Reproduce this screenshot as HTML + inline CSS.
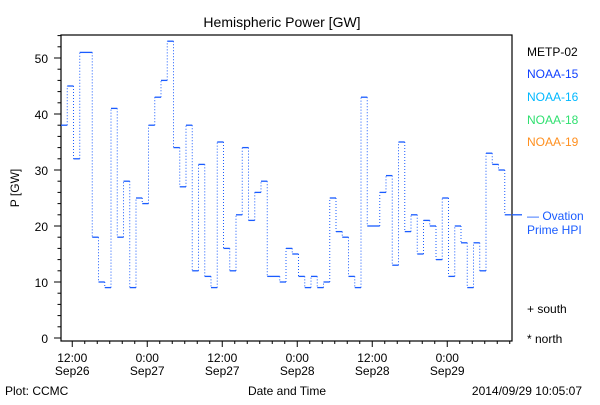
<!DOCTYPE html>
<html><head><meta charset="utf-8"><style>
body{margin:0;background:#fff}
svg text{font-family:"Liberation Sans",sans-serif;font-size:12px}
</style></head><body>
<svg width="600" height="400" viewBox="0 0 600 400" xmlns="http://www.w3.org/2000/svg">
<rect width="600" height="400" fill="#fff"/>
<text x="282" y="27" text-anchor="middle" font-size="14" style="font-size:14px">Hemispheric Power [GW]</text>
<text transform="translate(19,188) rotate(-90)" text-anchor="middle">P [GW]</text>
<rect x="61" y="35" width="451" height="306" fill="none" stroke="#000" stroke-width="1.2"/>
<g id="yaxis"></g><g id="xaxis"></g><g id="series"></g>
<text x="5" y="395">Plot: CCMC</text>
<text x="287" y="395" text-anchor="middle">Date and Time</text>
<text x="582" y="395" text-anchor="end">2014/09/29 10:05:07</text>
<text x="527" y="56" fill="#000">METP-02</text>
<text x="527" y="78" fill="#1040ff">NOAA-15</text>
<text x="527" y="101" fill="#00b8ff">NOAA-16</text>
<text x="527" y="124" fill="#30e070">NOAA-18</text>
<text x="527" y="146" fill="#ff9020">NOAA-19</text>
<text x="527" y="220" fill="#1a5cff">— Ovation</text>
<text x="527" y="234" fill="#1a5cff">Prime HPI</text>
<text x="527" y="313">+ south</text>
<text x="527" y="343">* north</text>
</svg>
<script>
const yTicks=[0,10,20,30,40,50];
const xTickLabels=[["12:00","Sep26"],["0:00","Sep27"],["12:00","Sep27"],["0:00","Sep28"],["12:00","Sep28"],["0:00","Sep29"]];
const xTickHours=[12,24,36,48,60,72];
const startHour=10.2;
const power=[38,45,32,51,51,18,10,9,41,18,28,9,25,24,38,43,46,53,34,27,38,12,31,11,9,35,16,12,22,34,21,26,28,11,11,10,
16,15,11,9,11,9,10,25,19,18,11,9,43,20,20,26,29,13,35,19,22,15,21,20,14,25,11,20,17,9,17,12,33,31,30,22];
const ovation=[22];
const NS="http://www.w3.org/2000/svg";
const X0=61,PXH=6.25,Y0=338,PXV=5.6;
function xs(h){return X0+(h-startHour)*PXH;}
function ys(v){return Y0-v*PXV;}
function mk(tag,attrs,parent){const e=document.createElementNS(NS,tag);for(const k in attrs)e.setAttribute(k,attrs[k]);parent.appendChild(e);return e;}
const ya=document.getElementById('yaxis'),xa=document.getElementById('xaxis'),sg=document.getElementById('series');
for(let v=0;v<=54;v+=2){const major=v%10===0;const t=mk('line',{x1:61,x2:major?54:57.5,y1:ys(v),y2:ys(v),stroke:'#000'},ya);

}
yTicks.forEach(v=>{const t=mk('text',{x:48,y:ys(v)+5,'text-anchor':'end'},ya);t.textContent=v;

});
for(let h=12;h<startHour+72;h+=2){const major=(h%12===0);const t=mk('line',{x1:xs(h),x2:xs(h),y1:341,y2:major?347:344,stroke:'#000'},xa);

}
xTickHours.forEach((h,i)=>{const t=mk('text',{x:xs(h),y:362,'text-anchor':'middle'},xa);t.textContent=xTickLabels[i][0];


const t2=mk('text',{x:xs(h),y:375,'text-anchor':'middle'},xa);t2.textContent=xTickLabels[i][1];

});
power.forEach((v,i)=>{const h=startHour+i;
const s=mk('line',{x1:xs(h),x2:xs(h+1),y1:ys(v),y2:ys(v),stroke:'#1a5cff','stroke-width':1.3},sg);


if(i>0){const d=mk('line',{x1:xs(h),x2:xs(h),y1:ys(power[i-1]),y2:ys(v),stroke:'#1a5cff','stroke-dasharray':'1 2'},sg);

}});
const ov=mk('line',{x1:512,x2:522,y1:ys(ovation[0]),y2:ys(ovation[0]),stroke:'#1a5cff','stroke-width':1.3},sg);


</script>
</body></html>
